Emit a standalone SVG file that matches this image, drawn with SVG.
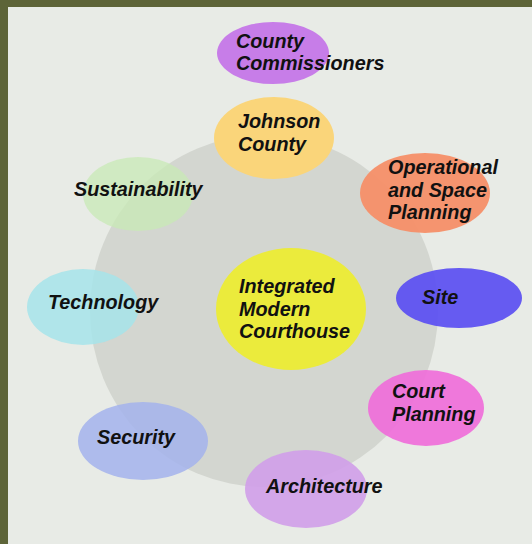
<svg xmlns="http://www.w3.org/2000/svg" width="532" height="544" viewBox="0 0 532 544">
<style>
text{font-family:"Liberation Sans",Arial,sans-serif;font-weight:bold;font-style:italic;font-size:19.8px;fill:#111}
</style>
<rect x="0" y="0" width="532" height="544" fill="#5d6438"/>
<rect x="8" y="7" width="524" height="537" fill="#e8ebe6"/>
<ellipse cx="264" cy="311" rx="174" ry="176" fill="#d3d6d0"/>
<g id="county-commissioners"><ellipse cx="273" cy="53" rx="56" ry="31" fill="#c77de8"/><text x="236" y="48">County</text><text x="236" y="70">Commissioners</text></g>
<g id="johnson-county"><ellipse cx="274" cy="138" rx="60" ry="41" fill="#fad57a"/><text x="238" y="128">Johnson</text><text x="238" y="151">County</text></g>
<g id="operational"><ellipse cx="425" cy="193" rx="65" ry="40" fill="#f68f68" fill-opacity="0.95"/><text x="388" y="174">Operational</text><text x="388" y="197">and Space</text><text x="388" y="219">Planning</text></g>
<g id="site"><ellipse cx="459" cy="298" rx="63" ry="30" fill="#5a4ef2" fill-opacity="0.92"/><text x="422" y="304">Site</text></g>
<g id="court-planning"><ellipse cx="426" cy="408" rx="58" ry="38" fill="#ef6cd9" fill-opacity="0.9"/><text x="392" y="398">Court</text><text x="392" y="421">Planning</text></g>
<g id="architecture"><ellipse cx="306" cy="489" rx="61" ry="39" fill="#d09ee9" fill-opacity="0.9"/><text x="266" y="493">Architecture</text></g>
<g id="security"><ellipse cx="143" cy="441" rx="65" ry="39" fill="#a3b3ec" fill-opacity="0.85"/><text x="97" y="444">Security</text></g>
<g id="technology"><ellipse cx="83" cy="307" rx="56" ry="38" fill="#a6e4ea" fill-opacity="0.85"/><text x="48" y="309">Technology</text></g>
<g id="sustainability"><ellipse cx="138" cy="194" rx="55" ry="37" fill="#c8eab6" fill-opacity="0.75"/><text x="74" y="196">Sustainability</text></g>
<g id="center"><ellipse cx="291" cy="309" rx="75" ry="61" fill="#ebeb3c"/><text x="239" y="293">Integrated</text><text x="239" y="316">Modern</text><text x="239" y="338">Courthouse</text></g>
<g id="connectors"></g>
</svg>
